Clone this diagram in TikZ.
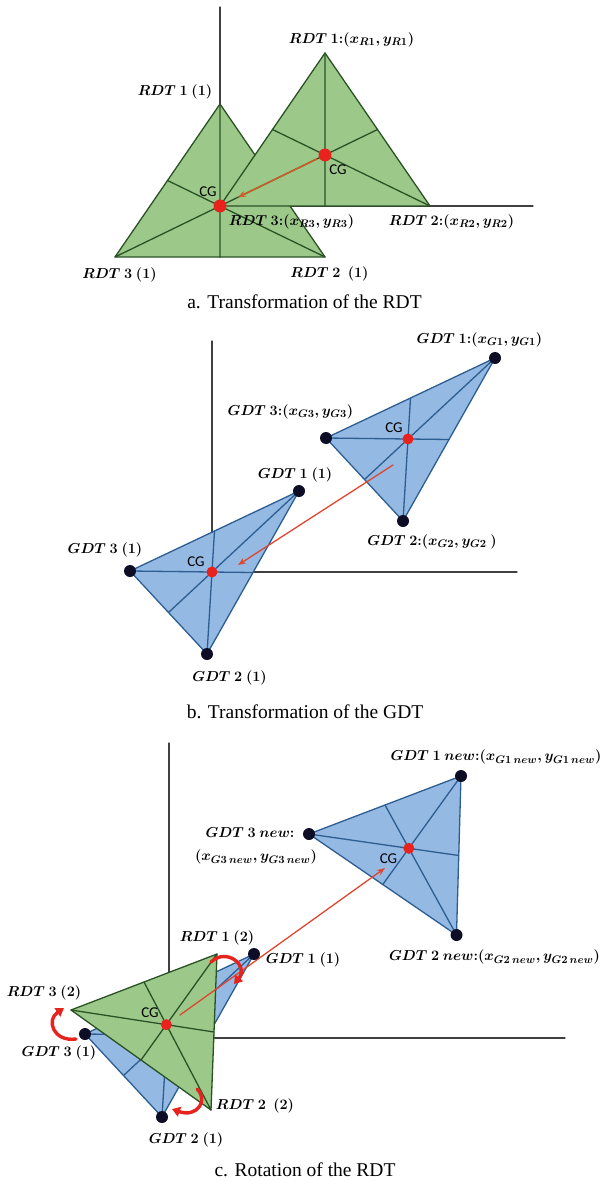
\documentclass[tikz,border=0pt]{standalone}
\usepackage{fontspec}
\setmainfont{Liberation Serif}
\newfontfamily\cgfont{Carlito}
\usetikzlibrary{arrows.meta,calc}
\definecolor{rdtfill}{HTML}{9CC98A}
\definecolor{rdtline}{HTML}{2A5224}
\definecolor{gdtfill}{HTML}{94B9E3}
\definecolor{gdtline}{HTML}{2C5E92}
\definecolor{cgred}{HTML}{E8231E}
\definecolor{dotblk}{HTML}{0D0D26}
\definecolor{movred}{HTML}{E0452F}
\definecolor{movbrown}{HTML}{C8602A}
\tikzset{
  axis/.style={draw=black!75,line width=1.3pt},
  rdt/.style={fill=rdtfill,draw=rdtline,line width=1.3pt},
  gdt/.style={fill=gdtfill,draw=gdtline,line width=1.3pt},
  lbl/.style={inner sep=0pt,font=\fontsize{15}{17}\selectfont\bfseries\boldmath},
  cgl/.style={inner sep=0pt,font=\cgfont\fontsize{15}{16}\selectfont},
  captxt/.style={inner sep=0pt,font=\fontsize{19.5}{22}\selectfont},
  mova/.style={draw=movbrown,line width=1.6pt,-{Stealth[length=8pt,width=6pt]}},
  movb/.style={draw=movred,line width=1.3pt,-{Stealth[length=8pt,width=6pt]}},
  turn/.style={draw=cgred,line width=3.4pt,-{Triangle[length=8pt,width=10pt]}},
}
% triangle with its three medians
\newcommand{\tri}[4]{%
  \filldraw[#1] (#2) -- (#3) -- (#4) -- cycle;
  \draw[#1,fill=none] (#2) -- ($(#3)!.5!(#4)$) (#3) -- ($(#2)!.5!(#4)$) (#4) -- ($(#2)!.5!(#3)$);}
\begin{document}
\begin{tikzpicture}[x=1pt,y=-1pt,line join=round,line cap=round]
\useasboundingbox (0,0) rectangle (603,1182);
% a. RDT
\draw[axis] (220,7) -- (220,257);
\draw[axis] (220,206) -- (533,206);
\coordinate (A1) at (220,104); \coordinate (A2) at (325,257); \coordinate (A3) at (115,257);
\coordinate (B1) at (325,53); \coordinate (B2) at (430,206); \coordinate (B3) at (220,206);
\tri{rdt}{A1}{A2}{A3}
\tri{rdt}{B1}{B2}{B3}
\coordinate (CA) at (barycentric cs:A1=1,A2=1,A3=1);
\coordinate (CB) at (barycentric cs:B1=1,B2=1,B3=1);
\draw[mova] ($(CB)!.08!(CA)$) -- ($(CB)!.83!(CA)$);
\fill[cgred] (CA) circle (6.5pt) (CB) circle (6.5pt);
\node[lbl] (la1) at (351.5,40) {$RDT\ 1{:}(x_{R1},y_{R1})$};
\node[lbl] (la2) at (175,92) {$RDT\ 1\ (1)$};
\node[lbl] (la3) at (291.5,222) {$RDT\ 3{:}(x_{R3},y_{R3})$};
\node[lbl] (la4) at (451.5,222) {$RDT\ 2{:}(x_{R2},y_{R2})$};
\node[lbl] (la5) at (119.5,275) {$RDT\ 3\ (1)$};
\node[lbl] (la6) at (329.5,274) {$RDT\ 2\ \ (1)$};
\node[cgl] (cga1) at (208,192) {CG};
\node[cgl] (cga2) at (338,170) {CG};
\node[captxt] (capa) at (304.5,302) {a. Transformation of the RDT};
% b. GDT
\draw[axis] (212,341) -- (212,572) -- (517,572);
\coordinate (P1) at (299,491); \coordinate (P2) at (207,654); \coordinate (P3) at (130,571);
\coordinate (Q1) at (495,358); \coordinate (Q2) at (403,521); \coordinate (Q3) at (326,438);
\tri{gdt}{P1}{P2}{P3}
\tri{gdt}{Q1}{Q2}{Q3}
\coordinate (CP) at (barycentric cs:P1=1,P2=1,P3=1);
\coordinate (CQ) at (barycentric cs:Q1=1,Q2=1,Q3=1);
\coordinate (mb0) at (393,465); \coordinate (mb1) at (238,565);
\draw[movb] (mb0) -- (mb1);
\fill[dotblk] (P1) circle (6pt) (P2) circle (6pt) (P3) circle (6pt)
  (Q1) circle (6pt) (Q2) circle (6pt) (Q3) circle (6pt);
\fill[cgred] (CP) circle (5.5pt) (CQ) circle (5.5pt);
\node[lbl] (lb1) at (479.5,340) {$GDT\ 1{:}(x_{G1},y_{G1})$};
\node[lbl] (lb2) at (290.5,412) {$GDT\ 3{:}(x_{G3},y_{G3})$};
\node[lbl] (lb3) at (295,475) {$GDT\ 1\ (1)$};
\node[lbl] (lb4) at (432,542) {$GDT\ 2{:}(x_{G2},y_{G2}\ )$};
\node[lbl] (lb5) at (105,550) {$GDT\ 3\ (1)$};
\node[lbl] (lb6) at (229.5,678) {$GDT\ 2\ (1)$};
\node[cgl] (cgb1) at (196,562) {CG};
\node[cgl] (cgb2) at (394,428) {CG};
\node[captxt] (capb) at (305,712) {b. Transformation of the GDT};
% c. rotation of the RDT
\draw[axis] (169,743) -- (169,1038) -- (565,1038);
\coordinate (H1) at (254,954); \coordinate (H2) at (162,1117); \coordinate (H3) at (85,1034);
\coordinate (N1) at (461,776); \coordinate (N2) at (456.5,935); \coordinate (N3) at (309,834);
\coordinate (R1) at (217,954); \coordinate (R2) at (211,1110); \coordinate (R3) at (71,1010);
\tri{gdt}{H1}{H2}{H3}
\tri{gdt}{N1}{N2}{N3}
\tri{rdt}{R1}{R2}{R3}
\coordinate (CN) at (barycentric cs:N1=1,N2=1,N3=1);
\coordinate (CR) at (barycentric cs:R1=1,R2=1,R3=1);
\coordinate (mc0) at (180,1015); \coordinate (mc1) at (385,868);
\draw[movb] (mc0) -- (mc1);
\fill[dotblk] (H1) circle (6pt) (H2) circle (6pt) (H3) circle (6pt)
  (N1) circle (6pt) (N2) circle (6pt) (N3) circle (6pt);
\fill[cgred] (CR) circle (5.5pt) (CN) circle (5.5pt);
\draw[turn] (211,962) .. controls (227,947) and (249,966) .. (234,984);
\draw[turn] (76,1039) .. controls (53,1042) and (46,1020) .. (64,1008);
\draw[turn] (197,1089) .. controls (209,1100) and (197,1118) .. (172,1109);
\node[lbl] (lc1) at (496,757) {$GDT\ 1\ new{:}(x_{G1\,new},y_{G1\,new})$};
\node[lbl] (lc2) at (250,833) {$GDT\ 3\ new{:}$};
\node[lbl] (lc3) at (256,857) {$(x_{G3\,new},y_{G3\,new})$};
\node[lbl] (lc4) at (494.5,957) {$GDT\ 2\ new{:}(x_{G2\,new},y_{G2\,new})$};
\node[lbl] (lc5) at (217,938) {$RDT\ 1\ (2)$};
\node[lbl] (lc6) at (303,960) {$GDT\ 1\ (1)$};
\node[lbl] (lc7) at (44,993) {$RDT\ 3\ (2)$};
\node[lbl] (lc8) at (59,1053) {$GDT\ 3\ (1)$};
\node[lbl] (lc9) at (255,1106) {$RDT\ 2\ \ (2)$};
\node[lbl] (lc10) at (186,1140) {$GDT\ 2\ (1)$};
\node[cgl] (cgc1) at (150,1013) {CG};
\node[cgl] (cgc2) at (388.5,859) {CG};
\node[captxt] (capc) at (305,1170) {c. Rotation of the RDT};
\end{tikzpicture}
\end{document}
